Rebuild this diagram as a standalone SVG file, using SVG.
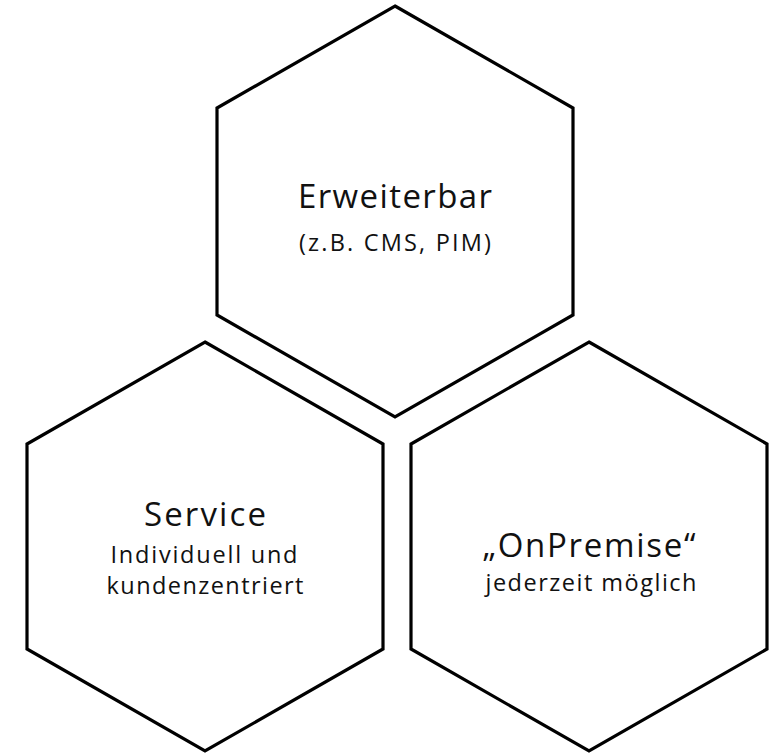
<svg xmlns="http://www.w3.org/2000/svg" width="775" height="753" viewBox="0 0 775 753">
<style>
.hex{fill:#fff;stroke:#000;stroke-width:3.2;stroke-linejoin:miter}
.t{font-family:"Open Sans","Noto Sans","Liberation Sans",sans-serif;fill:#111;text-anchor:middle}
.h{font-size:33px}
.s{font-size:23.5px}
</style>
<rect width="775" height="753" fill="#fff"/>
<g id="node-erweiterbar">
<polygon class="hex" points="395,6 573,108 573,315 395,417 217,315 217,108"/>
<text class="t h" x="395" y="208" textLength="194" lengthAdjust="spacing">Erweiterbar</text>
<text class="t s" x="395" y="251" textLength="192" lengthAdjust="spacing">(z.B. CMS, PIM)</text>
</g>
<g id="node-service">
<polygon class="hex" points="205,342 383,444 383,649 205,751 27,649 27,444"/>
<text class="t h" x="205" y="526" textLength="122" lengthAdjust="spacing">Service</text>
<text class="t s" x="204" y="563" textLength="187" lengthAdjust="spacing">Individuell und</text>
<text class="t s" x="205" y="594" textLength="197" lengthAdjust="spacing">kundenzentriert</text>
</g>
<g id="node-onpremise">
<polygon class="hex" points="589,342 767,444 767,649 589,751 411,649 411,444"/>
<text class="t h" x="589" y="557" textLength="213" lengthAdjust="spacing">„OnPremise“</text>
<text class="t s" x="591" y="591" textLength="211" lengthAdjust="spacing">jederzeit möglich</text>
</g>
<g id="connectors"></g>
</svg>
